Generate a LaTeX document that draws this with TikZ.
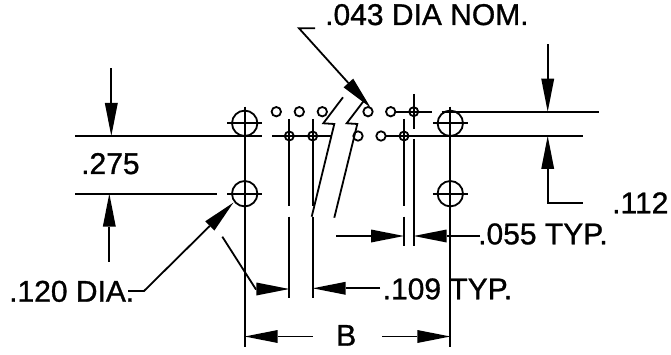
\documentclass[tikz,border=0pt]{standalone}
\usepackage{fontspec}
\setmainfont{Liberation Sans}
\newfontfamily\lblfont[FakeBold=1]{Liberation Sans}
\usetikzlibrary{arrows.meta}
\tikzset{
  ln/.style={line width=1.8pt,line cap=butt,black},
  dim/.style={ln,-{Triangle[length=33pt,width=13pt,line width=0pt]}},
  lbl/.style={anchor=base west,inner sep=0pt,font=\lblfont\fontsize{30}{31}\selectfont},
}
\begin{document}
\begin{tikzpicture}[x=1pt,y=-1pt]
\useasboundingbox[fill=white] (0,0) rectangle (671,355);
% named hole centres
\coordinate (H1) at (244.7,123.3);
\coordinate (H2) at (244.7,193.7);
\coordinate (H3) at (450.3,123.3);
\coordinate (H4) at (450.3,193.7);
% big holes
\foreach \h in {H1,H2,H3,H4}{
  \draw[ln] (\h) circle (12.7);
  \draw[ln] ([xshift=-17.4pt]\h) -- ([xshift=17.4pt]\h);
}
% main verticals
\draw[ln] (244.7,106.7) -- (244.7,346.7);
\draw[ln] (450.3,106.7) -- (450.3,346.7);
% horizontal datum lines
\draw[ln] (75,136) -- (262,136);
\draw[ln] (272,136) -- (331.7,136);
\draw[ln] (385.7,136) -- (582.7,136);
\draw[ln] (441.7,111.7) -- (599,111.7);
\draw[ln] (75,193.7) -- (216.7,193.7);
% small open holes
\foreach \x in {276.3,299.3,322.3,368,390.7}{\draw[ln] (\x,111.7) circle (4.7);}
\foreach \x in {358,381}{\draw[ln] (\x,136) circle (4.7);}
% small crossed holes
\foreach \x/\y in {289.3/136,312.7/136,404/136,413.7/111.7}{\draw[ln] (\x,\y) circle (4.5);}
\draw[ln] (395.4,111.7) -- (431.7,111.7);
\draw[ln] (413.7,94) -- (413.7,129);
% centre lines
\draw[ln] (289.3,119) -- (289.3,205.7);
\draw[ln] (289.3,216.7) -- (289.3,298);
\draw[ln] (312.7,119) -- (312.7,206);
\draw[ln] (312.7,216.7) -- (312.7,297.7);
\draw[ln] (404,119) -- (404,205.7);
\draw[ln] (404,216.7) -- (404,246);
\draw[ln] (413.7,139) -- (413.7,246);
% break lines
\draw[ln] (343,97.3) -- (323.3,123.3) -- (334.3,124) -- (311.7,216.7);
\draw[ln] (365,99.3) -- (346.7,123.3) -- (357.3,124) -- (334.3,217.7);
% dimension .275
\draw[dim] (111.3,68.3) -- (111.3,136);
\draw[dim] (109.3,261.7) -- (109.3,193.7);
% dimension .112
\draw[dim] (547.7,44.3) -- (547.7,111.7);
\draw[dim] (582.7,203.3) -- (547.7,203.3) -- (547.7,136);
% leaders
\draw[dim] (315,28.3) -- (299,28.3) -- (370.5,107.5);
\draw[dim] (128,291) -- (144,291) -- (233.3,202.7);
% .109
\draw[dim] (222.3,236.7) -- (255.7,289) -- (289.3,289);
\draw[dim] (380,288.3) -- (312.7,288.3);
% .055
\draw[dim] (336,236) -- (404,236);
\draw[dim] (480,236) -- (413.7,236);
% B
\draw[dim] (312.7,336.5) -- (244.7,336.5);
\draw[dim] (382.3,336.5) -- (450.3,336.5);
% labels
\node[lbl] (t275) at (81,174) {.275};
\node[lbl] (t120) at (9,301.7) {.120 DIA.};
\node[lbl] (t043) at (325,25) {.043 DIA NOM.};
\node[lbl] (t112) at (612,213.3) {.112};
\node[lbl] (t055) at (478,244.3) {.055 TYP.};
\node[lbl] (t109) at (382.5,299.3) {.109 TYP.};
\node[lbl] (tB) at (336,345.7) {B};
\end{tikzpicture}
\end{document}
